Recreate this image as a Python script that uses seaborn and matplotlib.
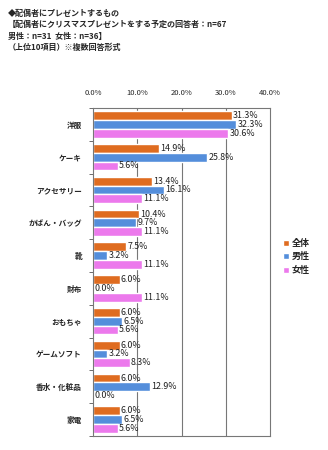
import matplotlib
matplotlib.use("Agg")
import matplotlib.pyplot as plt
import seaborn as sns
import pandas as pd
from matplotlib.ticker import FixedLocator

categories = ["洋服", "ケーキ", "アクセサリー", "かばん・バッグ", "靴", "財布", "おもちゃ", "ゲームソフト", "香水・化粧品", "家電"]
series_names = ["全体", "男性", "女性"]
total = [31.3, 14.9, 13.4, 10.4, 7.5, 6.0, 6.0, 6.0, 6.0, 6.0]
male = [32.3, 25.8, 16.1, 9.7, 3.2, 0.0, 6.5, 3.2, 12.9, 6.5]
female = [30.6, 5.6, 11.1, 11.1, 11.1, 11.1, 5.6, 8.3, 0.0, 5.6]
xticks = [0, 10, 20, 30, 40]
xtick_labels = ["0.0%", "10.0%", "20.0%", "30.0%", "40.0%"]
title_lines = ["◆配偶者にプレゼントするもの",
               "【配偶者にクリスマスプレゼントをする予定の回答者：n=67",
               "男性：n=31  女性：n=36】",
               "（上位10項目）※複数回答形式"]

sns.set_theme(style="white")
plt.rcParams['font.family'] = ['Noto Sans CJK JP', 'DejaVu Sans']

rows = []
for name, vals in zip(series_names, [total, male, female]):
    for c, v in zip(categories, vals):
        rows.append({"category": c, "series": name, "value": v})
df = pd.DataFrame(rows)

colors = ["#FF6600", "#3D8BF2", "#FF66FF"]

fig = plt.figure(figsize=(3.28, 4.5), dpi=100)
ax = fig.add_axes([93/328, 1-436/450, (270-93)/328, (436-108)/450])
sns.barplot(data=df, y="category", x="value", hue="series", orient="h",
            palette=colors, order=categories, hue_order=series_names,
            width=0.8, ax=ax, legend=True)

for cont in ax.containers:
    ax.bar_label(cont, fmt="%.1f%%", padding=1, fontsize=6.4, color="#222222")

ax.set_xlim(0, 40)
ax.set_ylim(len(categories)-0.5, -0.5)
ax.xaxis.tick_top()
ax.set_xticks(xticks)
ax.set_xticklabels(xtick_labels, fontsize=5.5)
ax.tick_params(axis="x", length=0, pad=8)
ax.set_xlabel("")
ax.set_ylabel("")
ax.tick_params(axis="y", length=0, labelsize=5.5, pad=8)
for lab in ax.get_yticklabels():
    lab.set_fontweight("bold")
ax.yaxis.set_minor_locator(FixedLocator([i + 0.5 for i in range(-1, len(categories))]))
ax.tick_params(axis="y", which="minor", length=3, width=0.6, color="#555555", left=True)
for x in xticks[1:-1]:
    ax.axvline(x, color="#777777", lw=0.8, zorder=0)
for s in ax.spines.values():
    s.set_color("#777777")
    s.set_linewidth(0.8)

leg = ax.legend(loc="center left", bbox_to_anchor=(1.03, 0.546), frameon=False,
                fontsize=6.5, handlelength=0.6, handleheight=0.6, handletextpad=0.3,
                labelspacing=0.5)
for t in leg.get_texts():
    t.set_fontweight("bold")

for i, t in enumerate(title_lines):
    fig.text(8/328, 1-(13+i*11.5)/450, t, fontsize=5.8, fontweight="bold", va="center", ha="left")

fig.savefig("out.png", dpi=100)
